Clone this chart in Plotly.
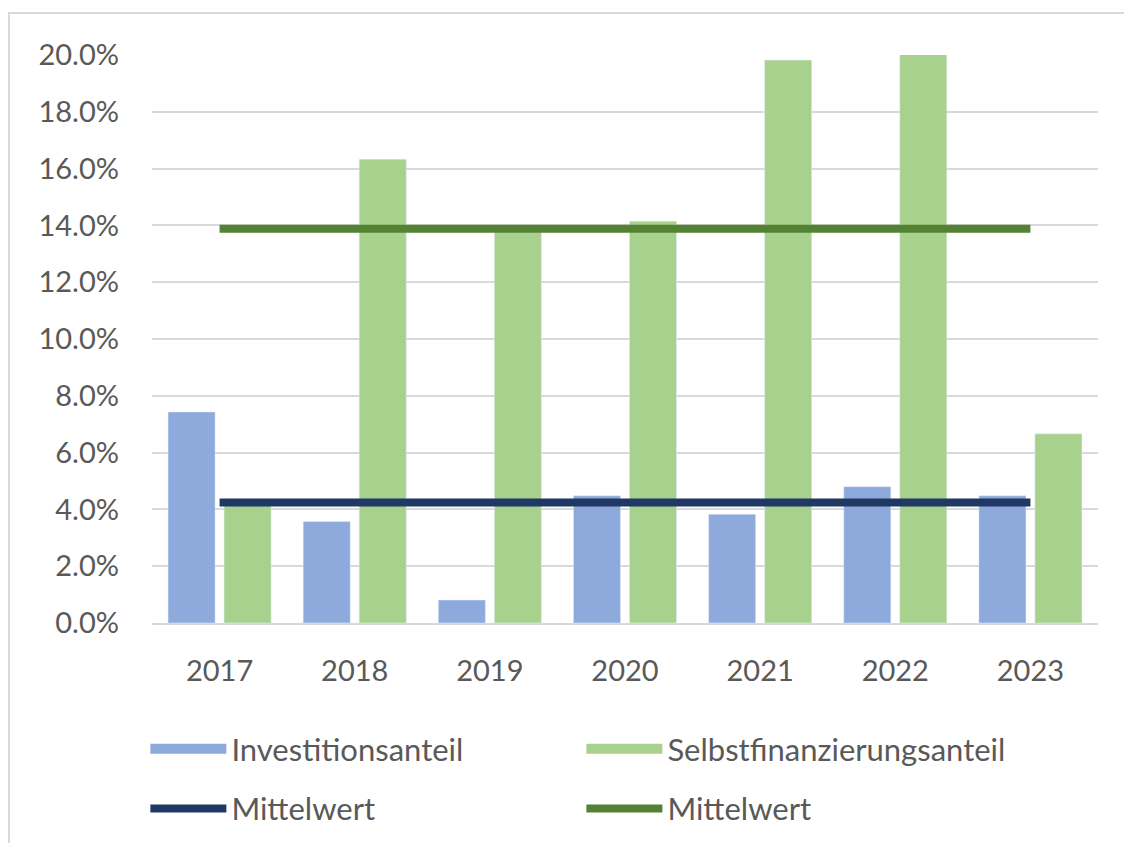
import plotly.graph_objects as go

# data (values in percent)
years = ['2017', '2018', '2019', '2020', '2021', '2022', '2023']
investitionsanteil = [7.43, 3.57, 0.81, 4.48, 3.83, 4.80, 4.48]
selbstfinanzierungsanteil = [4.15, 16.33, 13.95, 14.15, 19.82, 20.03, 6.66]
mittelwert_invest = [4.24] * 7
mittelwert_selbst = [13.88] * 7

font_name = 'Lato'
text_col = '#595959'
grid_col = '#D9D9D9'
blue = '#8EA9DB'
green = '#A9D18E'


def draw_chart():
    fig = go.Figure()
    fig.add_trace(go.Bar(x=years, y=investitionsanteil, name='Investitionsanteil',
                         marker_color=blue, showlegend=False))
    fig.add_trace(go.Bar(x=years, y=selbstfinanzierungsanteil, name='Selbstfinanzierungsanteil',
                         marker_color=green, showlegend=False))
    # legend-only entries so the bar swatches come out as wide blocks like in Excel
    fig.add_trace(go.Scatter(x=[None], y=[None], name='Investitionsanteil', mode='lines',
                             line=dict(color=blue, width=17), legend='legend'))
    fig.add_trace(go.Scatter(x=[None], y=[None], name='Selbstfinanzierungsanteil', mode='lines',
                             line=dict(color=green, width=17), legend='legend'))
    fig.add_trace(go.Scatter(x=years, y=mittelwert_invest, name='Mittelwert', mode='lines',
                             line=dict(color='#1F3864', width=8), legend='legend2'))
    fig.add_trace(go.Scatter(x=years, y=mittelwert_selbst, name='Mittelwert', mode='lines',
                             line=dict(color='#548235', width=8), legend='legend2'))

    leg = dict(orientation='h', x=-0.007, xanchor='left', yanchor='middle',
               font=dict(family=font_name, size=31, color=text_col),
               entrywidth=345, itemwidth=76, bgcolor='rgba(0,0,0,0)', traceorder='normal')

    # page body has an 8px margin, so the figure is offset; bottom runs past the window
    fig.update_layout(
        width=1116, height=843,
        margin=dict(l=144, r=26, t=47, b=228),
        paper_bgcolor='white', plot_bgcolor='white',
        font=dict(family=font_name, size=29, color=text_col),
        barmode='group', bargap=0.171, bargroupgap=0.16,
        legend=dict(leg, y=-0.222),
        legend2=dict(leg, y=-0.327),
        # light frame around the chart, cut off on right and bottom like the screenshot
        shapes=[dict(type='rect', xref='paper', yref='paper',
                     x0=-0.1512, x1=1.05, y0=-0.45, y1=1.074,
                     line=dict(color=grid_col, width=2))],
    )
    fig.update_yaxes(range=[0, 20], dtick=2, tickformat='.1f', ticksuffix='%',
                     showgrid=True, gridcolor=grid_col, gridwidth=1.5,
                     zeroline=False, showline=False, ticklabelstandoff=32,
                     tickfont=dict(size=29, color=text_col))
    fig.update_xaxes(showline=True, linecolor=grid_col, linewidth=1.5,
                     ticklabelstandoff=21, tickfont=dict(size=29, color=text_col))

    fig.write_html('out.html')


if __name__ == '__main__':
    draw_chart()
